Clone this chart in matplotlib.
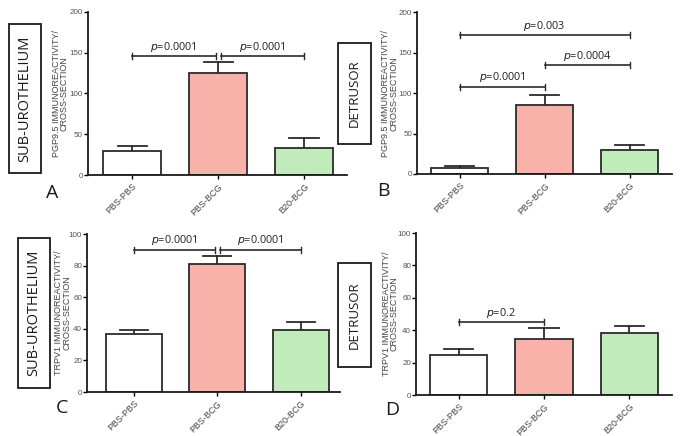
import matplotlib
matplotlib.use("Agg")
import matplotlib.pyplot as plt
import matplotlib.patches as mpatches

plt.rcParams["font.family"] = ["Open Sans", "DejaVu Sans"]

W, H = 685, 436

groups = ["PBS-PBS", "PBS-BCG", "B20-BCG"]
colors = ["#ffffff", "#f8b2aa", "#c2ebbb"]

pgp_sub_mean = [30, 125, 33]
pgp_sub_err = [6, 14, 12]
pgp_det_mean = [8, 85, 30]
pgp_det_err = [2, 13, 6]
trpv_sub_mean = [36.5, 81, 39.5]
trpv_sub_err = [2.8, 5, 4.8]
trpv_det_mean = [25, 34.5, 38.5]
trpv_det_err = [3.5, 6.8, 4]

# (x1, x2, y, label)
sig_a = [(0, 0.97, 146, "0.0001"), (1.03, 2, 146, "0.0001")]
sig_b = [(0, 2, 172, "0.003"), (1, 2, 135, "0.0004"), (0, 1, 108, "0.0001")]
sig_c = [(0, 0.97, 90, "0.0001"), (1.03, 2, 90, "0.0001")]
sig_d = [(0, 1, 45, "0.2")]

ylab_pgp = "PGP9.5 IMMUNOREACTIVITY/\nCROSS-SECTION"
ylab_trpv = "TRPV1 IMMUNOREACTIVITY/\nCROSS-SECTION"

SANS = "Liberation Sans"

fig = plt.figure(figsize=(W / 100, H / 100), dpi=100)
fig.patch.set_facecolor("white")


def px_axes(x0, x1, ytop, ybot):
    return fig.add_axes([x0 / W, 1 - ybot / H, (x1 - x0) / W, (ybot - ytop) / H])


def panel(ax, means, errs, ymax, step, ylab, sigs, xl, xr, labx):
    ax.bar(range(3), means, width=0.67, color=colors, edgecolor="#2b2b2b",
           linewidth=1.3, zorder=2)
    for i, (m, e) in enumerate(zip(means, errs)):
        ax.plot([i, i], [m, m + e], color="#2b2b2b", lw=1.3, zorder=1)
        ax.plot([i - 0.17, i + 0.17], [m + e, m + e], color="#2b2b2b", lw=1.3, zorder=1)
    cap = ymax * 0.02
    for x1, x2, y, lab in sigs:
        ax.plot([x1, x2], [y, y], color="#2b2b2b", lw=1.2, clip_on=False)
        for xx in (x1, x2):
            ax.plot([xx, xx], [y - cap, y + cap], color="#2b2b2b", lw=1.0, clip_on=False)
        ax.text((x1 + x2) / 2, y + ymax * 0.015, r"$\it{p}$" + "=" + lab,
                ha="center", va="bottom", fontsize=7.8, color="#222222")
    ax.set_ylim(0, ymax)
    ax.set_xlim(xl, xr)
    ax.set_yticks(range(0, ymax + 1, step))
    ax.set_xticks(range(3))
    ax.set_xticklabels(groups, rotation=45, ha="right", rotation_mode="anchor",
                       fontsize=6.5, color="#444444", family=SANS)
    ax.tick_params(axis="y", labelsize=5.8, labelcolor="#555555", length=3, width=1,
                   pad=0.5)
    ax.tick_params(axis="x", length=3, width=1, pad=2)
    for lbl in ax.get_yticklabels():
        lbl.set_family(SANS)
    for s in ("top", "right"):
        ax.spines[s].set_visible(False)
    for s in ("left", "bottom"):
        ax.spines[s].set_linewidth(1.3)
        ax.spines[s].set_color("#1a1a1a")
    ax.set_ylabel(ylab, fontsize=6.5, color="#444444", family=SANS,
                  linespacing=0.85, va="center")
    ax.yaxis.set_label_coords(labx, 0.5)


ax_a = px_axes(87.5, 347, 12, 175)
panel(ax_a, pgp_sub_mean, pgp_sub_err, 200, 50, ylab_pgp, sig_a, -0.52, 2.5, -0.106)
ax_b = px_axes(417, 672, 12.5, 174)
panel(ax_b, pgp_det_mean, pgp_det_err, 200, 50, ylab_pgp, sig_b, -0.5, 2.5, -0.106)
ax_c = px_axes(87, 340, 234, 392)
panel(ax_c, trpv_sub_mean, trpv_sub_err, 100, 20, ylab_trpv, sig_c, -0.56, 2.47, -0.095)
ax_d = px_axes(416, 672, 233, 395)
panel(ax_d, trpv_det_mean, trpv_det_err, 100, 20, ylab_trpv, sig_d, -0.5, 2.5, -0.1)


def side_box(x0, x1, y0, y1, text, fs):
    fig.patches.append(mpatches.Rectangle((x0 / W, 1 - y1 / H), (x1 - x0) / W,
                                          (y1 - y0) / H, transform=fig.transFigure,
                                          fill=False, edgecolor="#1a1a1a", lw=1.3))
    fig.text((x0 + x1) / 2 / W, 1 - (y0 + y1) / 2 / H, text, rotation=90,
             ha="center", va="center", fontsize=fs, color="#1a1a1a")


side_box(9, 41, 24, 173, "SUB-UROTHELIUM", 10.5)
side_box(338, 371, 43, 144, "DETRUSOR", 9.5)
side_box(18, 50, 238, 388, "SUB-UROTHELIUM", 10.5)
side_box(338, 371, 263, 367, "DETRUSOR", 9.5)

for lx, ly, lt in [(52, 193, "A"), (383, 191, "B"), (62, 408, "C"), (392, 410, "D")]:
    fig.text(lx / W, 1 - ly / H, lt, ha="center", va="center", fontsize=14,
             color="#1a1a1a")

fig.savefig("out.png", dpi=100)
